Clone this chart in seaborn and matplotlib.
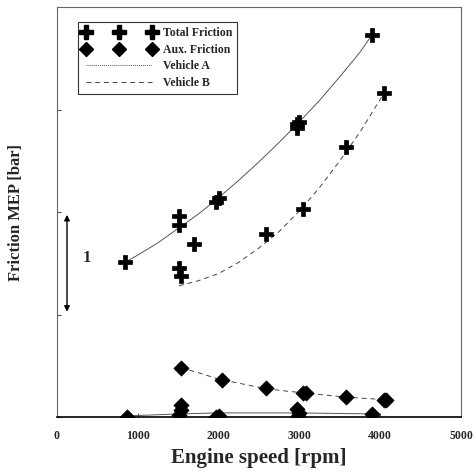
import matplotlib
matplotlib.use("Agg")
import matplotlib.pyplot as plt
import seaborn as sns
from matplotlib.lines import Line2D

sns.set_style("white")
plt.rcParams['font.family'] = ['Liberation Serif', 'DejaVu Serif']
plt.rcParams['font.weight'] = 'bold'

# Total friction measurements
total_speed = [842, 1510, 1510, 1510, 1535, 1968, 2005, 1696, 2970, 2970, 2995, 3045, 2587, 3577, 3899, 4047]
total_mep = [1.51, 1.96, 1.87, 1.45, 1.38, 2.10, 2.14, 1.69, 2.82, 2.86, 2.88, 2.03, 1.79, 2.63, 3.73, 3.16]

# Auxiliary friction measurements
aux_speed = [1535, 2042, 2587, 3045, 3080, 3577, 4047, 4070,
             866, 1510, 1535, 1535, 1968, 2005, 2970, 2995, 2985, 3899]
aux_mep = [0.48, 0.36, 0.28, 0.23, 0.23, 0.20, 0.17, 0.17,
           0.00, 0.02, 0.12, 0.07, 0.00, 0.01, 0.08, 0.04, 0.01, 0.03]

# Trend lines
vehA_total_speed = [842, 1000, 1250, 1500, 1750, 2000, 2250, 2500, 2750, 3000, 3250, 3500, 3750, 3900]
vehA_total_mep = [1.51, 1.58, 1.70, 1.84, 1.98, 2.14, 2.31, 2.49, 2.68, 2.88, 3.09, 3.32, 3.56, 3.73]
vehB_total_speed = [1510, 1750, 2000, 2250, 2500, 2750, 3000, 3250, 3500, 3750, 4047]
vehB_total_mep = [1.28, 1.33, 1.40, 1.51, 1.65, 1.81, 2.01, 2.24, 2.50, 2.78, 3.16]
vehA_aux_speed = [842, 1500, 2000, 3000, 3900]
vehA_aux_mep = [0.01, 0.03, 0.04, 0.04, 0.03]
vehB_aux_speed = [1535, 1800, 2000, 2250, 2500, 2750, 3000, 3250, 3500, 3750, 4047]
vehB_aux_mep = [0.48, 0.42, 0.37, 0.33, 0.29, 0.26, 0.24, 0.22, 0.20, 0.185, 0.17]

legend_labels = ["Total Friction", "Aux. Friction", "Vehicle A", "Vehicle B"]

fig = plt.figure(figsize=(4.76, 4.72), dpi=100)
ax = fig.add_axes([0.1197, 0.1165, 0.8488, 0.8685])

lineA = dict(color="#555555", linewidth=0.7, linestyle="-")
lineB = dict(color="#444444", linewidth=0.7, linestyle=(0, (5, 4)))

sns.lineplot(x=vehA_total_speed, y=vehA_total_mep, ax=ax, **lineA)
sns.lineplot(x=vehB_total_speed, y=vehB_total_mep, ax=ax, **lineB)
sns.lineplot(x=vehA_aux_speed, y=vehA_aux_mep, ax=ax, **lineA)
sns.lineplot(x=vehB_aux_speed, y=vehB_aux_mep, ax=ax, **lineB)

sns.scatterplot(x=total_speed, y=total_mep, ax=ax, marker="P", s=115,
                color="black", edgecolor="black", linewidth=0.5, zorder=5)
sns.scatterplot(x=aux_speed, y=aux_mep, ax=ax, marker="D", s=60,
                color="black", edgecolor="black", linewidth=0.5, zorder=5)

ax.set_xlim(0, 5000)
ax.set_ylim(0, 4)
ax.set_xticks([0, 1000, 2000, 3000, 4000, 5000])
ax.set_xticks([500, 1500, 2500, 3500, 4500], minor=True)
ax.set_yticks([0, 1, 2, 3, 4])
ax.set_yticklabels([])
ax.tick_params(axis='x', which='both', direction='in', length=3, width=0.6, labelsize=8.5, pad=9)
ax.tick_params(axis='y', which='both', direction='in', length=3, width=0.6, left=True)
ax.tick_params(axis='x', bottom=True)
for lab in ax.get_xticklabels():
    lab.set_fontweight('bold')

for side in ['left', 'top', 'right']:
    ax.spines[side].set_linestyle((0, (1, 1)))
    ax.spines[side].set_color('#666666')
    ax.spines[side].set_linewidth(0.8)
ax.spines['bottom'].set_color('black')
ax.spines['bottom'].set_linewidth(1.2)

ax.set_xlabel("Engine speed [rpm]", fontsize=15, fontweight='bold', labelpad=5)
ax.set_ylabel("Friction MEP [bar]", fontsize=12, fontweight='bold', labelpad=20)

# scale bar
ax.annotate("", xy=(124, 1.0), xytext=(124, 2.0),
            arrowprops=dict(arrowstyle="<|-|>", color="black", lw=1.0, mutation_scale=8))
ax.text(370, 1.55, "1", fontsize=12, fontweight='bold', ha='center', va='center')

handles = [
    Line2D([], [], marker="P", linestyle="none", color="black", markersize=10),
    Line2D([], [], marker="D", linestyle="none", color="black", markersize=7),
    Line2D([], [], linestyle=(0, (1, 1)), color="#555555", linewidth=0.7),
    Line2D([], [], linestyle=(0, (5, 4)), color="#444444", linewidth=0.7),
]
leg = ax.legend(handles, legend_labels, loc="upper left", bbox_to_anchor=(0.052, 0.963),
                numpoints=3, handlelength=6.2, fontsize=8.5, frameon=True, fancybox=False,
                borderpad=0.4, labelspacing=0.4, handletextpad=0.6, borderaxespad=0)
leg.get_frame().set_edgecolor("black")
leg.get_frame().set_linewidth(0.8)
for t in leg.get_texts():
    t.set_fontweight('bold')

fig.savefig("out.png", dpi=100)
